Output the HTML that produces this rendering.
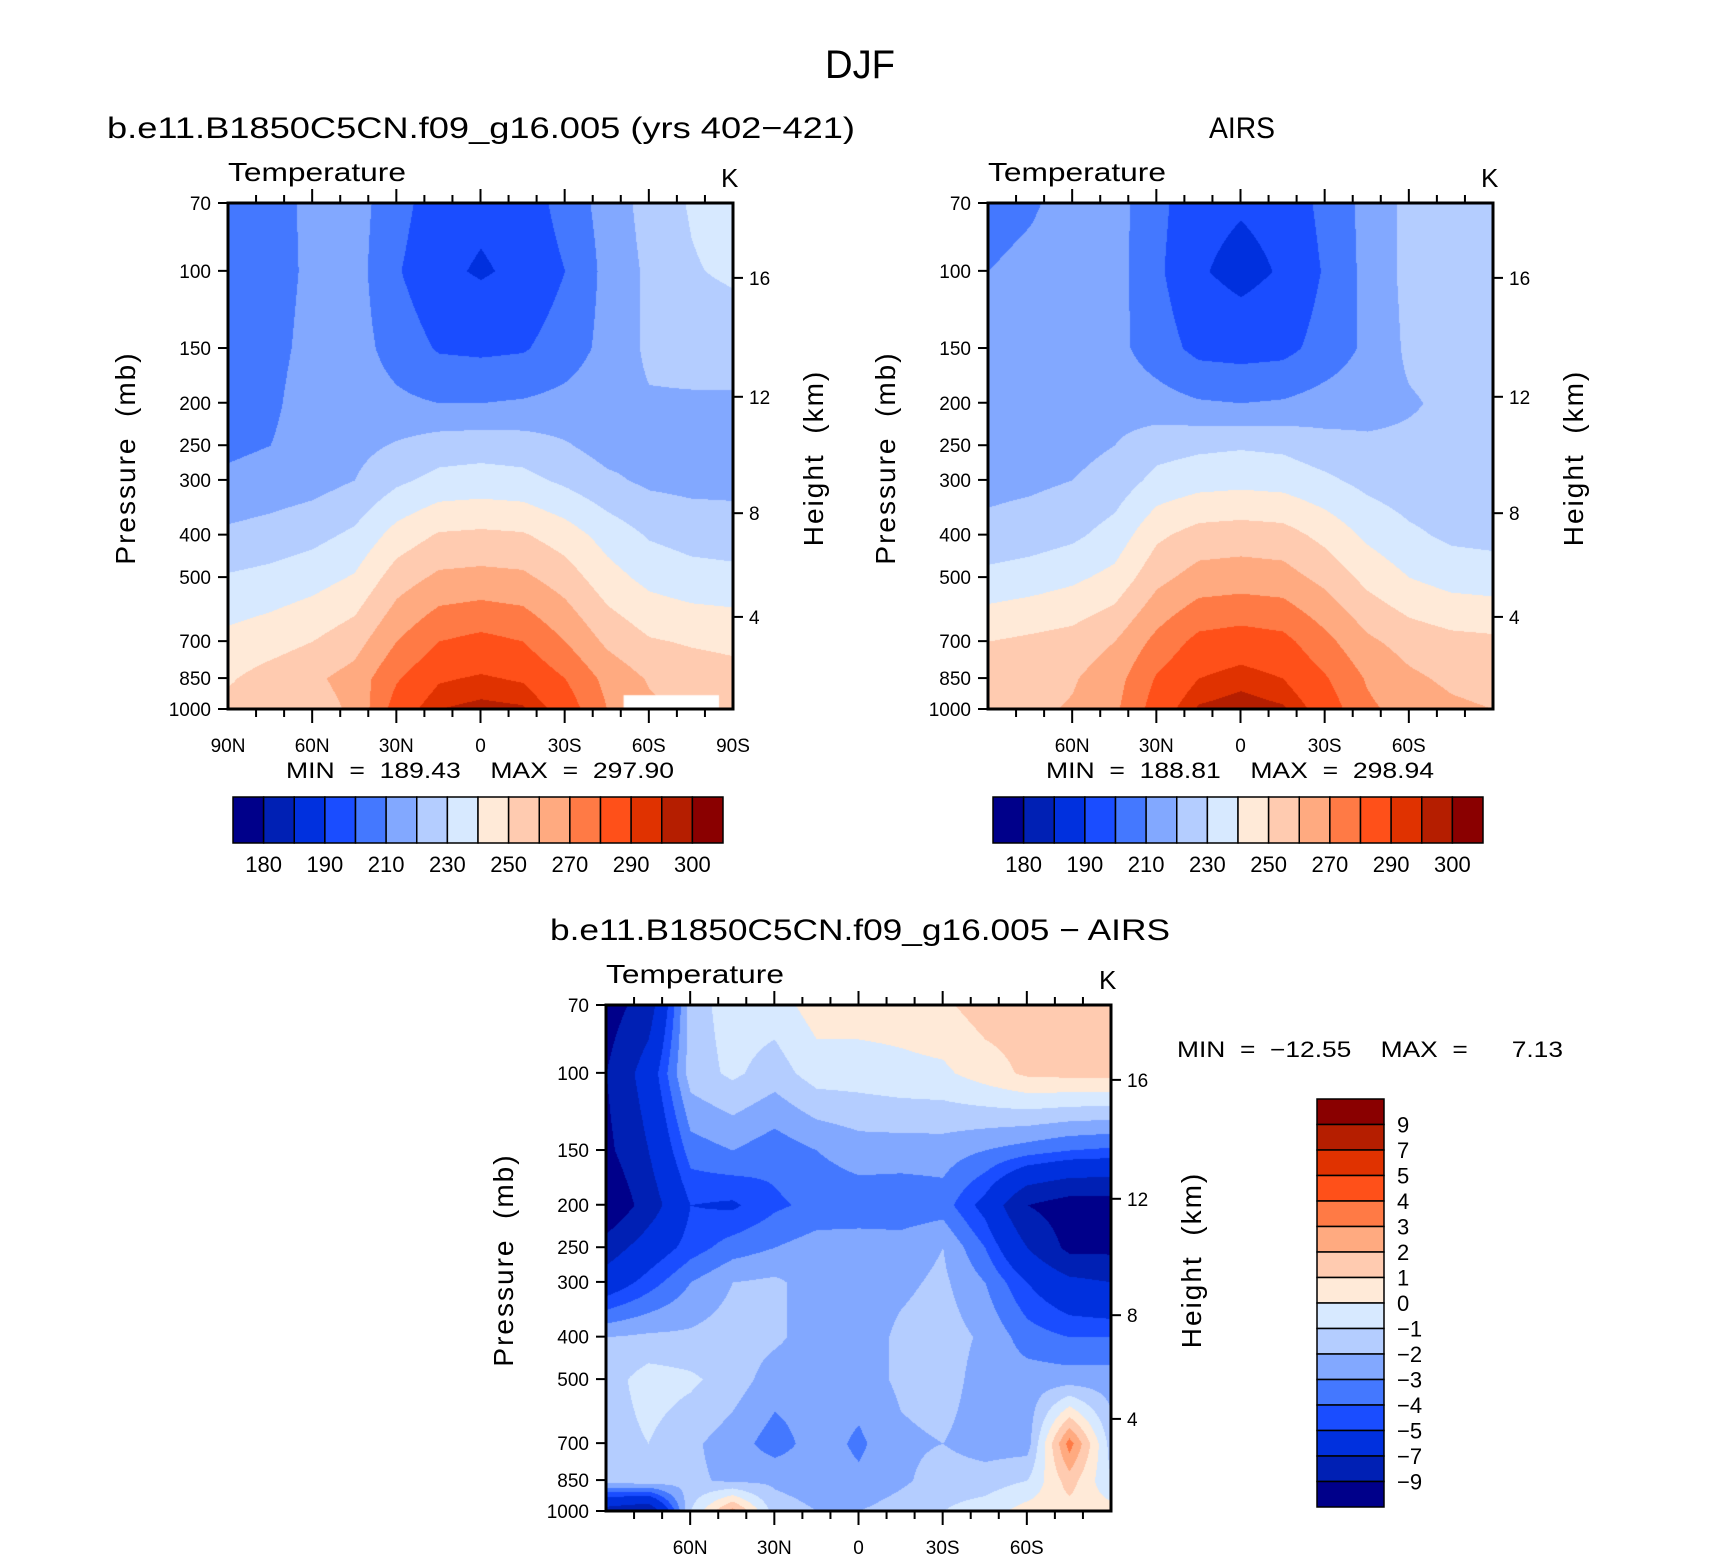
<!DOCTYPE html>
<html><head><meta charset="utf-8">
<style>
html,body{margin:0;padding:0;background:#fff;}
#root{position:relative;width:1710px;height:1555px;overflow:hidden;}
svg{position:absolute;left:0;top:0;}
canvas{position:absolute;}
text{font-family:"Liberation Sans",sans-serif;fill:#000;white-space:pre;}
</style></head>
<body>
<div id="root">
<canvas id="c1" width="505" height="506" style="left:228px;top:203px"></canvas>
<canvas id="c2" width="505" height="506" style="left:988px;top:203px"></canvas>
<canvas id="c3" width="505" height="506" style="left:606px;top:1005px"></canvas>
<svg id="s" width="1710" height="1555"></svg>
</div>
<script>
// ---- data ----
const pressures=[70,100,150,200,250,300,400,500,700,850,1000];
const lats=[90,75,60,45,30,15,0,-15,-30,-45,-60,-75,-90];
const tempLevels=[180,185,190,200,210,220,230,240,250,260,270,280,290,295,300];
const tempLabels=["180","190","210","230","250","270","290","300"];
const diffLevels=[-9,-7,-5,-4,-3,-2,-1,0,1,2,3,4,5,7,9];
const diffLabels=["9","7","5","4","3","2","1","0","\u22121","\u22122","\u22123","\u22124","\u22125","\u22127","\u22129"];
const colors=["#00008a","#0020b4","#0030de","#1a4dff","#4478ff","#82a8ff","#b4cdff","#d7e9ff","#ffead8","#ffcbb0","#ffaa80","#ff7a45","#ff5019","#e03200","#b51e00","#8a0000"];
const modelT=[
[200,205,213,214,204,194,192,194,204,214,224,231,236],
[203,206,212,214,201,192,189,192,200,213,222,229,232],
[205,207,213,214,206,199,198,199,205,213,222,223,223],
[206,208,215,215,212,210,210,211,213,216,219,219,219],
[208,210,215,217,221,225,226,225,221,216,217,217,217],
[212,214,216,220,228,233,234,233,228,222,218,217,217],
[222,224,227,232,244,251,252,251,245,236,229,226,225],
[231,233,236,241,255,262,263,262,255,244,237,234,233],
[243,246,250,256,270,280,283,280,270,258,251,249,248],
[249,254,258,264,279,289,291,289,280,267,259,255,253],
[253,251,255,262,285,295,297,296,286,270,262,258,255]];
const airsT=[
[207,209,213,214,203,193,191,193,203,213,223,225,229],
[210,212,214,214,202,191,187,191,201,213,223,225,226],
[212,213,214,213,205,197,196,197,204,212,222,224,224],
[213,214,215,216,214,211,210,211,214,216,219,222,222],
[215,216,217,220,226,228,229,228,224,222,222,222,222],
[217,218,220,224,233,236,237,236,232,227,224,223,223],
[223,225,228,234,248,254,255,254,247,238,232,228,227],
[233,235,238,243,257,264,265,264,257,247,240,236,235],
[250,252,254,260,273,283,285,283,273,262,256,253,252],
[255,256,259,266,281,290,293,290,281,269,262,258,256],
[257,258,261,268,285,296,298,296,286,272,266,262,260]];
const diffT=[
[-10,-8,-1.5,-0.5,-0.5,0.5,0.5,0.5,0.8,1.5,1.5,1.5,1.5],
[-9,-6,-1.5,-0.8,-1.5,-0.5,-0.5,-0.3,-0.2,0.5,1.2,1.3,1.3],
[-9.5,-7,-3.5,-3,-3.6,-3,-2.5,-2.5,-2.5,-3,-3.5,-4,-4.2],
[-11,-8,-5,-5.2,-4.2,-3.7,-3.6,-3.7,-3.5,-5.5,-9,-10,-10],
[-8,-6,-4.5,-3.5,-3,-2.5,-2.5,-2.5,-2,-4,-7,-9.5,-9.5],
[-6,-4.5,-3,-2,-1.8,-2.5,-2.5,-2.2,-1.8,-3,-5,-6.5,-7],
[-2,-1.8,-1.8,-1.5,-1.8,-2.5,-2.5,-1.8,-1.5,-2.2,-3.5,-4,-4],
[-1.5,-0.5,-0.8,-1.5,-2.5,-2.5,-2.5,-1.8,-1.5,-2.5,-2.5,-2.5,-2.5],
[-1.5,-1,-1.8,-2.5,-3.5,-2.5,-3.2,-2.2,-2,-2.5,-2.5,3.5,-1.5],
[-1.5,-1.2,-1.8,-2.2,-2.2,-2.5,-2.8,-2.2,-1.5,-1.5,-1,1.5,-1],
[-8,-9,-1,2.5,-1.5,-2,-2,-1.5,-1,-0.5,0.5,0.5,0.5]];
const pTicks=[70,100,150,200,250,300,400,500,700,850,1000];
const hTicks=[16,12,8,4];
const hTickFrac=[0.148,0.383,0.613,0.818];

// ---- geometry ----
const PW=505,PH=506;
const L70=Math.log(70),L1000=Math.log(1000);
function yOfP(p){return (Math.log(p)-L70)/(L1000-L70)*PH;}
function xOfLat(l){return (90-l)/180*PW;}
function sample(grid,lat,p){
  const fc=(90-lat)/15; let c=Math.min(Math.floor(fc),lats.length-2); const tc=fc-c;
  const lp=Math.log(p); let r=0; while(r<pressures.length-2&&Math.log(pressures[r+1])<lp) r++;
  const a=Math.log(pressures[r]),b=Math.log(pressures[r+1]); const tr=(lp-a)/(b-a);
  const v00=grid[r][c],v01=grid[r][c+1],v10=grid[r+1][c],v11=grid[r+1][c+1];
  return (v00*(1-tc)+v01*tc)*(1-tr)+(v10*(1-tc)+v11*tc)*tr;
}
function band(v,levels){let i=0;while(i<levels.length&&v>=levels[i])i++;return i;}
function hex(h){return [parseInt(h.slice(1,3),16),parseInt(h.slice(3,5),16),parseInt(h.slice(5,7),16)];}
const rgb=colors.map(hex);
function drawField(id,grid,levels){
  const cv=document.getElementById(id),ctx=cv.getContext('2d');
  const img=ctx.createImageData(PW,PH);
  for(let y=0;y<PH;y++){
    const p=Math.exp(L70+y/PH*(L1000-L70));
    for(let x=0;x<PW;x++){
      const lat=90-x/PW*180;
      const k=band(sample(grid,lat,p),levels);
      const c=rgb[k],i=(y*PW+x)*4;
      img.data[i]=c[0];img.data[i+1]=c[1];img.data[i+2]=c[2];img.data[i+3]=255;
    }
  }
  ctx.putImageData(img,0,0);
}
drawField('c1',modelT,tempLevels);
drawField('c2',airsT,tempLevels);
drawField('c3',diffT,diffLevels);
(function(){const ctx=document.getElementById('c1').getContext('2d');ctx.fillStyle='#fff';
ctx.fillRect(xOfLat(-51),yOfP(930),xOfLat(-85)-xOfLat(-51),PH);})();

// ---- svg ----
const S=document.getElementById('s');const NS='http://www.w3.org/2000/svg';
function el(tag,attrs,txt){const e=document.createElementNS(NS,tag);for(const k in attrs)e.setAttribute(k,attrs[k]);if(txt!==undefined)e.textContent=txt;S.appendChild(e);return e;}
function T(x,y,s,size,anchor,name,len){const a={x:x,y:y,'font-size':size,'text-anchor':anchor||'start'};if(len){a.textLength=len;a.lengthAdjust='spacingAndGlyphs';}
 const e=el('text',a,s);return e;}
function line(x1,y1,x2,y2,w,name){const e=el('line',{x1:x1,y1:y1,x2:x2,y2:y2,stroke:'#000','stroke-width':w});return e;}

function panel(ox,oy,latLabels,prefix){
  const r=el('rect',{x:ox,y:oy,width:PW,height:PH,fill:'none',stroke:'#000','stroke-width':3});
  
  for(let l=90;l>=-90;l-=10){
    const x=ox+xOfLat(l);const major=(l%30===0);const len=major?14:8;
    if(Math.abs(l)===90) continue;
    line(x,oy,x,oy-len,2,prefix+'-top-tick');
    line(x,oy+PH,x,oy+PH+len,2,prefix+'-bottom-tick');
  }
  latLabels.forEach(function(l){
    const s=l===0?'0':(Math.abs(l)+(l>0?'N':'S'));
    T(ox+xOfLat(l),oy+PH+43,s,19,'middle',prefix+'-lat-label');
  });
  pTicks.forEach(function(p){
    const y=oy+yOfP(p);line(ox-10,y,ox,y,2,prefix+'-pressure-tick');
    T(ox-17,y+7,String(p),19,'end',prefix+'-pressure-label');
  });
  hTicks.forEach(function(h,i){
    const y=oy+hTickFrac[i]*PH;line(ox+PW,y,ox+PW+10,y,2,prefix+'-height-tick');
    T(ox+PW+16,y+7,String(h),19,'start',prefix+'-height-label');
  });
  T(ox,oy-22,'Temperature',26,'start',prefix+'-variable-label',178);
  T(ox+PW-12,oy-16,'K',26,'start',prefix+'-units-label');
  let t=T(0,0,'Pressure  (mb)',28,'middle',prefix+'-y-axis-title');
  t.setAttribute('transform','translate('+(ox-93)+','+(oy+255)+') rotate(-90)');t.setAttribute('letter-spacing','2');
  t=T(0,0,'Height  (km)',28,'middle',prefix+'-right-axis-title');
  t.setAttribute('transform','translate('+(ox+PW+90)+','+(oy+255)+') rotate(-90)');t.setAttribute('letter-spacing','2');
}
T(860,78,'DJF',40,'middle','figure-title',70);
T(107,138,'b.e11.B1850C5CN.f09_g16.005 (yrs 402\u2212421)',30,'start','model-panel-title',748);
T(1242,138,'AIRS',30,'middle','airs-panel-title',66);
T(860,940,'b.e11.B1850C5CN.f09_g16.005 \u2212 AIRS',30,'middle','difference-panel-title',620);
panel(228,203,[90,60,30,0,-30,-60,-90],'model');
panel(988,203,[60,30,0,-30,-60],'airs');
panel(606,1005,[60,30,0,-30,-60],'diff');

T(480,778,'MIN  =  189.43    MAX  =  297.90',22,'middle','model-min-max',388);
T(1240,778,'MIN  =  188.81    MAX  =  298.94',22,'middle','airs-min-max',388);
T(1177,1057,'MIN  =  \u221212.55    MAX  =      7.13',22,'start','diff-min-max',386);

function hbar(x0,prefix){
  const w=490/16;
  colors.forEach(function(c,i){
    const r=el('rect',{x:x0+i*w,y:797,width:w,height:46,fill:c,stroke:'#000','stroke-width':1.5});
    
  });
  tempLabels.forEach(function(s,j){
    T(x0+(2*j+1)*w,872,s,22,'middle',prefix+'-colorbar-label');
  });
}
hbar(233,'model');hbar(993,'airs');
(function(){
  const h=408/16;
  colors.slice().reverse().forEach(function(c,i){
    const r=el('rect',{x:1317,y:1099+i*h,width:67,height:h,fill:c,stroke:'#000','stroke-width':1.5});
    
  });
  diffLabels.forEach(function(s,i){
    T(1397,1099+(i+1)*h+8,s,22,'start','diff-colorbar-label');
  });
})();
</script>
</body></html>
